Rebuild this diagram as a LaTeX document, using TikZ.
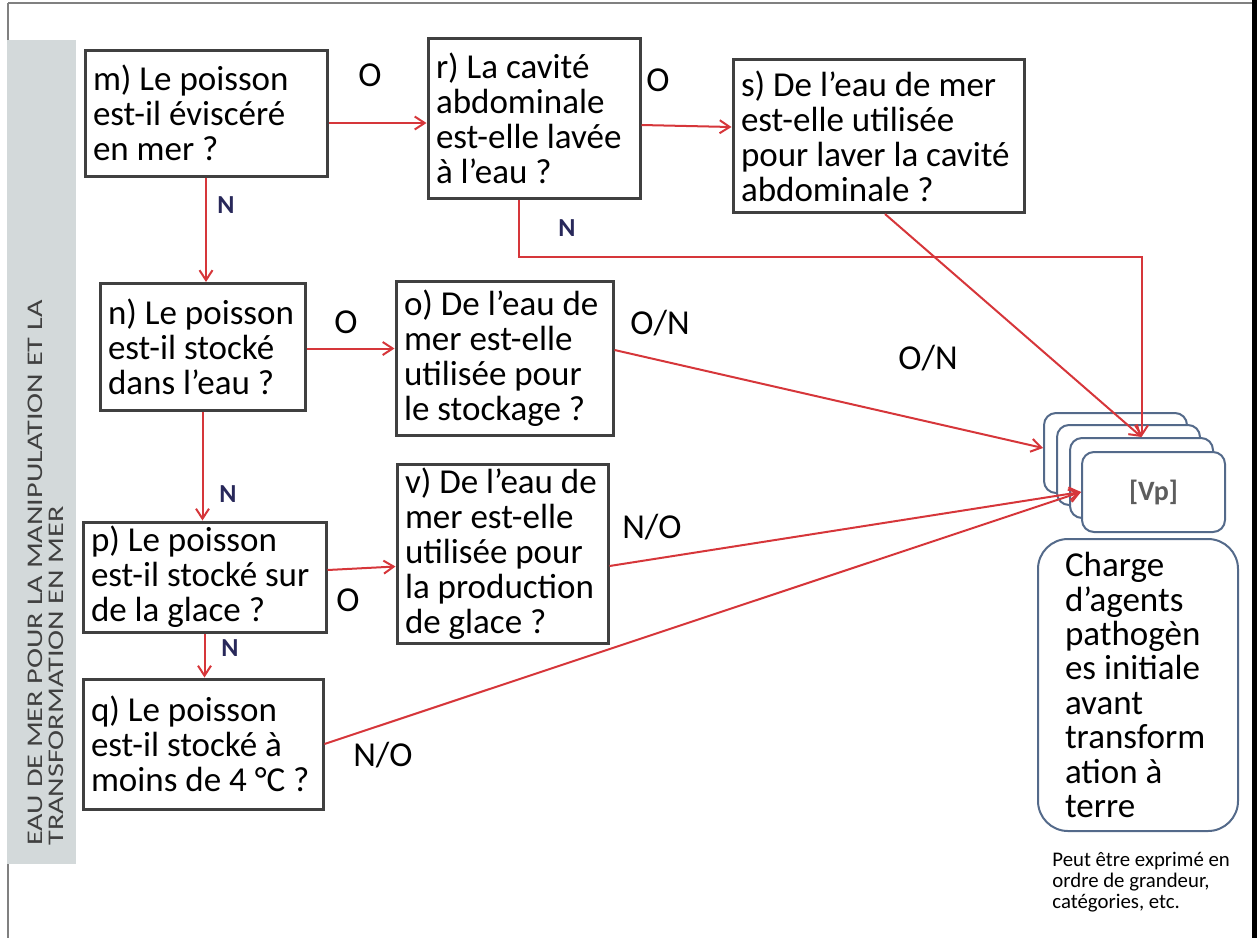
\documentclass[tikz,border=0pt]{standalone}
\usepackage{fontspec}
\setmainfont{Carlito}
\usetikzlibrary{arrows.meta}
\definecolor{flowred}{RGB}{214,54,58}
\definecolor{boxgray}{RGB}{64,64,64}
\definecolor{vpblue}{RGB}{84,106,138}
\definecolor{sidegray}{RGB}{211,217,218}
\definecolor{nnavy}{RGB}{40,40,90}

\begin{document}
\begin{tikzpicture}[x=0.5pt,y=-0.5pt,
	>={Straight Barb[length=5pt,width=6.5pt]},
	flow/.style={->,draw=flowred,line width=1pt},
	question/.style={draw=boxgray,line width=1.5pt,fill=white,align=flush left,inner xsep=4pt,inner ysep=0pt,font=\fontsize{17.5}{17.5}\selectfont},
	stack/.style={draw=vpblue,line width=1pt,fill=white,rounded corners=6pt,minimum width=71.5pt,minimum height=40pt},
	answer/.style={font=\fontsize{17.5}{17.5}\selectfont},
	nlbl/.style={font=\fontsize{13}{13}\selectfont\bfseries,text=nnavy}]
	\useasboundingbox (0,0) rectangle (1257,938);
	\draw[gray,line width=0.6pt] (8,3) -- (1253,3);
	\draw[gray,line width=0.6pt] (8,3) -- (8,938);
	\fill (1252,0) rectangle (1257,938);
	\fill[sidegray] (7,40) rectangle (76,864);
	\node[rotate=90,anchor=north west,inner sep=0pt,text=boxgray,font=\fontsize{15.1}{13.5}\selectfont] (side) at (28,846)
	{\scalebox{1}[0.74]{\begin{tabular}{@{}l@{}}EAU DE MER POUR LA MANIPULATION ET LA\\TRANSFORMATION EN MER\end{tabular}}};
	
	\node[question,text width=113pt,minimum height=63pt] (m) at (206,113) {m) Le poisson\\est-il éviscéré\\en mer ?};
	\node[question,text width=98pt,minimum height=80pt] (r) at (534,118) {r) La cavité\\abdominale\\est-elle lavée\\à l’eau ?};
	\node[question,text width=137.5pt,minimum height=76.5pt] (s) at (878.5,136) {s) De l’eau de mer\\est-elle utilisée\\pour~laver~la~cavité\\abdominale ?};
	\node[question,text width=94.5pt,minimum height=63.5pt] (n) at (202.5,347) {n)~Le~poisson\\est-il stocké\\dans l’eau ?};
	\node[question,text width=100.5pt,minimum height=77pt] (o) at (504.5,358) {o)~De~l’eau~de\\mer est-elle\\utilisée pour\\le stockage ?};
	\node[question,text width=97.5pt,minimum height=89.5pt] (v) at (502.5,554) {v)~De~l’eau~de\\mer est-elle\\utilisée pour\\la~production\\de glace ?};
	\node[question,text width=113.5pt,minimum height=55pt] (p) at (204.5,577) {p) Le poisson\\est-il~stocké~sur\\de la glace ?};
	\node[question,text width=112pt,minimum height=65pt] (q) at (203,744) {q) Le poisson\\est-il stocké à\\moins~de~4~°C~?};
	
	\node[stack] (vp1) at (1115.5,453) {};
	\node[stack] (vp2) at (1128.5,465) {};
	\node[stack] (vp3) at (1141.5,478) {};
	\node[stack,font=\fontsize{14}{14}\selectfont\bfseries,text=boxgray!85] (vp4) at (1153.5,492) {[Vp]};
	\node[draw=vpblue,line width=1pt,rounded corners=15pt,align=flush left,text width=73pt,inner xsep=13.5pt,minimum height=146pt,font=\fontsize{17.5}{17.2}\selectfont] (charge) at (1138,685)
	{Charge\\d’agents\\pathogèn\\es initiale\\avant\\transform\\ation à\\terre};
	\node[anchor=north west,inner sep=0pt,align=flush left,font=\fontsize{10.4}{10.5}\selectfont] (note) at (1052,852)
	{Peut être exprimé en\\ordre de grandeur,\\catégories, etc.};
	
	\draw[flow] ([yshift=-5pt]m.east) -- ([yshift=-2.5pt]r.west);
	\node[answer] (lmr) at (370,75) {O};
	\draw[flow] ([yshift=-3.5pt]r.east) -- ([yshift=4.5pt]s.west);
	\node[answer] (lrs) at (658,80) {O};
	\draw[flow] (m.south) -- (m.south |- n.north);
	\node[nlbl] (lmn) at (226,205) {N};
	\draw[flow] ([xshift=-7.5pt]r.south) -- ++(0,57) -| (vp3.north);
	\node[nlbl] (lrv) at (567,228) {N};
	\draw[flow] ([xshift=3.25pt]s.south) -- (vp3.north);
	\node[answer] (lsv) at (928,358) {O/N};
	\draw[flow] ([yshift=-0.75pt]n.east) -- ([yshift=-0.75pt]n.east -| o.west);
	\node[answer] (lno) at (346,322) {O};
	\draw[flow] ([yshift=4pt]o.east) -- ([yshift=2.5pt]vp1.west);
	\node[answer] (lov) at (660,323) {O/N};
	\draw[flow] (n.south) -- (n.south |- p.north);
	\node[nlbl] (lnp) at (228,494) {N};
	\draw[flow] ([yshift=3.5pt]p.east) -- ([yshift=-6.25pt]v.west);
	\node[answer] (lpv) at (348,600) {O};
	\draw[flow] ([yshift=-6pt]v.east) -- (vp4.west);
	\node[answer] (lvv) at (652,527) {N/O};
	\draw[flow] (p.south) -- (p.south |- q.north);
	\node[nlbl] (lpq) at (230,648) {N};
	\draw[flow] (q.east) -- (vp4.west);
	\node[answer] (lqv) at (383,755) {N/O};
\end{tikzpicture}
\end{document}
